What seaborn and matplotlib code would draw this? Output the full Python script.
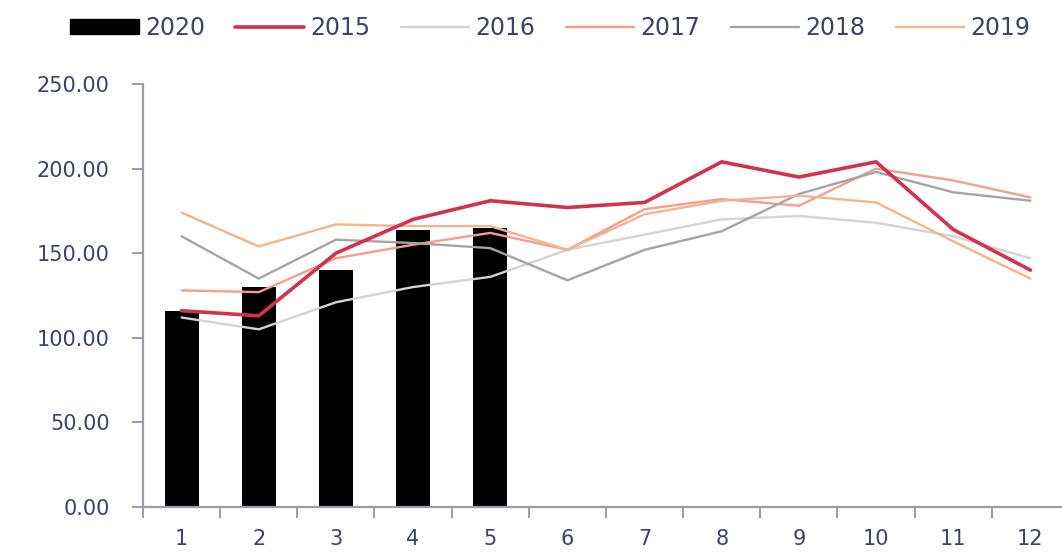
import matplotlib
matplotlib.use("Agg")
import matplotlib.pyplot as plt
import seaborn as sns
import pandas as pd
import numpy as np
from matplotlib.ticker import FixedLocator, FormatStrFormatter
from matplotlib.patches import Patch
from matplotlib.lines import Line2D

# ---- data ----
months = list(range(1, 13))
months_2020 = [1, 2, 3, 4, 5]
v2020 = [116, 130, 140, 164, 165]
v2015 = [116, 113, 150, 170, 181, 177, 180, 204, 195, 204, 164, 140]
v2016 = [112, 105, 121, 130, 136, 152, 161, 170, 172, 168, 160, 147]
v2017 = [128, 127, 147, 155, 162, 152, 176, 182, 178, 200, 193, 183]
v2018 = [160, 135, 158, 156, 153, 134, 152, 163, 185, 198, 186, 181]
v2019 = [174, 154, 167, 166, 166, 152, 173, 181, 184, 180, 157, 135]
line_years = ["2015", "2016", "2017", "2018", "2019"]
y_ticks = [0, 50, 100, 150, 200, 250]

colors = {
    "2015": "#d2324c",
    "2016": "#d4d4d6",
    "2017": "#f2a08e",
    "2018": "#a4a4a8",
    "2019": "#f4b48c",
}
widths = {"2015": 2.6, "2016": 1.7, "2017": 1.7, "2018": 1.7, "2019": 1.7}

sns.set_theme(style="white")
plt.rcParams["font.family"] = ["DejaVu Sans"]
text_color = "#3b4468"

fig = plt.figure(figsize=(10.62, 5.54), dpi=100)
ax = fig.add_axes([143 / 1062, 1 - 507 / 554, (1062 - 143) / 1062, (507 - 84) / 554])

bars = pd.DataFrame({"month": months_2020, "value": v2020})
sns.barplot(data=bars, x="month", y="value", native_scale=True, width=0.44,
            color="black", edgecolor="black", linewidth=0, ax=ax, zorder=1)
for b in ax.patches:
    b.set_facecolor("black")

series = {"2015": v2015, "2016": v2016, "2017": v2017, "2018": v2018, "2019": v2019}
long = pd.DataFrame([(yr, m, v) for yr in line_years for m, v in zip(months, series[yr])],
                    columns=["year", "month", "value"])
for yr in line_years:
    sub = long[long["year"] == yr]
    sns.lineplot(data=sub, x="month", y="value", color=colors[yr],
                 linewidth=widths[yr], ax=ax, zorder=3 if yr == "2015" else 2,
                 legend=False)

ax.set_xlim(0.5, 12.5 - 7 / 77.2)
ax.set_ylim(0, 250)
ax.set_xlabel("")
ax.set_ylabel("")
ax.yaxis.set_major_locator(FixedLocator(y_ticks))
ax.yaxis.set_major_formatter(FormatStrFormatter("%.2f"))
ax.xaxis.set_major_locator(FixedLocator(months))
ax.set_xticklabels([str(m) for m in months])
ax.xaxis.set_minor_locator(FixedLocator([m + 0.5 for m in range(0, 12)]))

for s in ["top", "right"]:
    ax.spines[s].set_visible(False)
for s in ["left", "bottom"]:
    ax.spines[s].set_color("#9c9ca8")
    ax.spines[s].set_linewidth(1.6)

ax.tick_params(axis="y", which="major", direction="out", length=8, width=1.4,
               color="#9c9ca8", left=True, labelsize=15, labelcolor=text_color, pad=16)
ax.tick_params(axis="x", which="major", length=0, labelsize=15,
               labelcolor=text_color, pad=16)
ax.tick_params(axis="x", which="minor", direction="out", length=8, width=1.4,
               color="#9c9ca8", bottom=True)
ax.grid(False)

handles = [Patch(facecolor="black", edgecolor="black")]
labels = ["2020"]
for yr in line_years:
    handles.append(Line2D([0], [0], color=colors[yr], linewidth=widths[yr]))
    labels.append(yr)
fig.legend(handles, labels, loc="center", bbox_to_anchor=(0.518, 1 - 28 / 554),
           ncol=6, frameon=False, fontsize=17, handlelength=2.9, handleheight=0.6,
           handletextpad=0.25, columnspacing=1.3, labelcolor=text_color)

fig.savefig("out.png", dpi=100, facecolor="white")
